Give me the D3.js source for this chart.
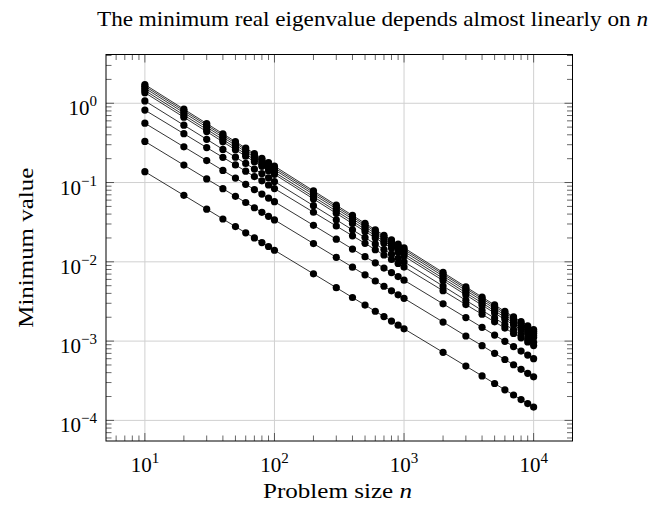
<!DOCTYPE html>
<html>
<head>
<meta charset="utf-8">
<script src="https://cdn.jsdelivr.net/npm/d3@7.9.0/dist/d3.min.js"></script>
<style>
  body { margin: 0; background: #fff; }
  text { font-family: "Liberation Serif", "DejaVu Serif", serif; fill: #000; }
</style>
</head>
<body>
<svg id="chart" width="652" height="506"></svg>
<script>
// problem sizes n (x values)
const sizes = [10, 20, 30, 40, 50, 60, 70, 80, 90, 100,
  200, 300, 400, 500, 600, 700, 800, 900, 1000,
  2000, 3000, 4000, 5000, 6000, 7000, 8000, 9000, 10000];

// minimum real eigenvalue, one array per curve (top to bottom)
const seriesA = [1.72, 0.842, 0.555, 0.412, 0.328, 0.272, 0.232, 0.202, 0.179, 0.161,
  0.0786, 0.0518, 0.0385, 0.0306, 0.0254, 0.0216, 0.0189, 0.0167, 0.0150,
  0.00734, 0.00483, 0.00359, 0.00286, 0.00237, 0.00202, 0.00176, 0.00156, 0.00140];
const seriesB = [1.64, 0.803, 0.529, 0.393, 0.313, 0.259, 0.221, 0.193, 0.171, 0.153,
  0.0750, 0.0494, 0.0367, 0.0292, 0.0242, 0.0206, 0.0180, 0.0159, 0.0143,
  0.00700, 0.00461, 0.00343, 0.00272, 0.00226, 0.00193, 0.00168, 0.00149, 0.00133];
const seriesC = [1.55, 0.759, 0.500, 0.372, 0.295, 0.245, 0.209, 0.182, 0.161, 0.145,
  0.0709, 0.0467, 0.0347, 0.0276, 0.0228, 0.0195, 0.0170, 0.0150, 0.0135,
  0.00661, 0.00435, 0.00324, 0.00257, 0.00213, 0.00182, 0.00159, 0.00140, 0.00126];
const seriesD = [1.45, 0.710, 0.468, 0.348, 0.276, 0.229, 0.195, 0.170, 0.151, 0.135,
  0.0663, 0.0436, 0.0325, 0.0258, 0.0214, 0.0182, 0.0159, 0.0141, 0.0126,
  0.00619, 0.00407, 0.00303, 0.00241, 0.00200, 0.00170, 0.00148, 0.00131, 0.00118];
const seriesE = [1.36, 0.666, 0.439, 0.326, 0.259, 0.215, 0.183, 0.160, 0.141, 0.127,
  0.0622, 0.0409, 0.0304, 0.0242, 0.0200, 0.0171, 0.0149, 0.0132, 0.0118,
  0.00580, 0.00382, 0.00284, 0.00226, 0.00187, 0.00160, 0.00139, 0.00123, 0.00111];
const seriesF = [1.07, 0.529, 0.351, 0.262, 0.209, 0.174, 0.148, 0.130, 0.115, 0.103,
  0.0511, 0.0339, 0.0253, 0.0202, 0.0168, 0.0143, 0.0125, 0.0111, 0.00999,
  0.00494, 0.00327, 0.00244, 0.00195, 0.00162, 0.00139, 0.00121, 0.00107, 0.000965];
const seriesG = [0.82, 0.413, 0.276, 0.208, 0.167, 0.139, 0.119, 0.105, 0.0931, 0.0839,
  0.0422, 0.0283, 0.0213, 0.0171, 0.0142, 0.0122, 0.0107, 0.00953, 0.00859,
  0.00432, 0.00289, 0.00218, 0.00175, 0.00146, 0.00125, 0.00110, 0.000975, 0.000879];
const seriesH = [0.56, 0.282, 0.189, 0.142, 0.114, 0.0950, 0.0816, 0.0715, 0.0636, 0.0573,
  0.0289, 0.0193, 0.0145, 0.0116, 0.00972, 0.00835, 0.00731, 0.00651, 0.00586,
  0.00295, 0.00198, 0.00149, 0.00119, 0.000995, 0.000854, 0.000748, 0.000666, 0.000600];
const seriesI = [0.33, 0.166, 0.111, 0.0837, 0.0671, 0.0560, 0.0481, 0.0421, 0.0375, 0.0338,
  0.0170, 0.0114, 0.00856, 0.00686, 0.00573, 0.00492, 0.00431, 0.00384, 0.00346,
  0.00174, 0.00116, 0.000876, 0.000702, 0.000586, 0.000503, 0.000441, 0.000392, 0.000354];
const seriesJ = [0.137, 0.0690, 0.0462, 0.0347, 0.0278, 0.0232, 0.0200, 0.0175, 0.0156, 0.0140,
  0.00706, 0.00472, 0.00355, 0.00285, 0.00238, 0.00204, 0.00179, 0.00159, 0.00143,
  0.000722, 0.000484, 0.000364, 0.000292, 0.000243, 0.000209, 0.000183, 0.000163, 0.000147];

const allSeries = [seriesA, seriesB, seriesC, seriesD, seriesE, seriesF, seriesG, seriesH, seriesI, seriesJ];

// tick exponents
const xTickExps = [1, 2, 3, 4];
const yTickExps = [-4, -3, -2, -1, 0];

const svg = d3.select("#chart");

// plot box
const boxLeft = 106, boxRight = 572.5, boxTop = 54.5, boxBottom = 441;

const x = d3.scaleLog().domain([Math.pow(10, 0.7), Math.pow(10, 4.3)]).range([boxLeft, boxRight]);
const y = d3.scaleLog().domain([Math.pow(10, -4.26), Math.pow(10, 0.615)]).range([boxBottom, boxTop]);

// grid lines at the major ticks
const grid = svg.append("g").attr("stroke", "#d0d0d0").attr("stroke-width", 1);
grid.selectAll(".gx").data(xTickExps).enter().append("line")
  .attr("x1", d => x(Math.pow(10, d))).attr("x2", d => x(Math.pow(10, d)))
  .attr("y1", boxTop).attr("y2", boxBottom);
grid.selectAll(".gy").data(yTickExps).enter().append("line")
  .attr("y1", d => y(Math.pow(10, d))).attr("y2", d => y(Math.pow(10, d)))
  .attr("x1", boxLeft).attr("x2", boxRight);

// ticks (inside, on all four sides)
const ticks = svg.append("g").attr("stroke", "#000").attr("stroke-width", 0.6);
const xAll = x.ticks().filter(v => v >= x.domain()[0] && v <= x.domain()[1]);
const yAll = y.ticks().filter(v => v >= y.domain()[0] && v <= y.domain()[1]);
const isMajor = v => Math.abs(Math.log10(v) - Math.round(Math.log10(v))) < 1e-9;

xAll.forEach(v => {
  const len = isMajor(v) ? 8 : 5.5;
  ticks.append("line").attr("x1", x(v)).attr("x2", x(v)).attr("y1", boxBottom).attr("y2", boxBottom - len);
  ticks.append("line").attr("x1", x(v)).attr("x2", x(v)).attr("y1", boxTop).attr("y2", boxTop + len);
});
yAll.forEach(v => {
  const len = isMajor(v) ? 8 : 5.5;
  ticks.append("line").attr("y1", y(v)).attr("y2", y(v)).attr("x1", boxLeft).attr("x2", boxLeft + len);
  ticks.append("line").attr("y1", y(v)).attr("y2", y(v)).attr("x1", boxRight).attr("x2", boxRight - len);
});

// data curves
const line = d3.line()
  .x((d, i) => x(sizes[i]))
  .y(d => y(d));

allSeries.forEach(s => {
  const g = svg.append("g");
  g.append("path")
    .attr("d", line(s))
    .attr("fill", "none")
    .attr("stroke", "#000")
    .attr("stroke-width", 0.8);
  g.selectAll("circle")
    .data(s)
    .enter()
    .append("circle")
    .attr("cx", (d, i) => x(sizes[i]))
    .attr("cy", d => y(d))
    .attr("r", 3.6)
    .attr("fill", "#000");
});

// axis box
svg.append("rect")
  .attr("x", boxLeft).attr("y", boxTop)
  .attr("width", boxRight - boxLeft).attr("height", boxBottom - boxTop)
  .attr("fill", "none").attr("stroke", "#000").attr("stroke-width", 1);

// tick labels: 10^k
function powerLabel(sel, exp) {
  sel.append("tspan").text("10");
  sel.append("tspan")
    .attr("dy", -9)
    .attr("font-size", 15)
    .text(exp < 0 ? "\u2212" + Math.abs(exp) : String(exp));
}

xTickExps.forEach(e => {
  const t = svg.append("text")
    .attr("x", x(Math.pow(10, e)))
    .attr("y", 472)
    .attr("text-anchor", "middle")
    .attr("font-size", 21);
  powerLabel(t, e);
});
yTickExps.forEach(e => {
  const t = svg.append("text")
    .attr("x", 97)
    .attr("y", y(Math.pow(10, e)) + 12)
    .attr("text-anchor", "end")
    .attr("font-size", 21);
  powerLabel(t, e);
});

// axis labels
const xl = svg.append("text")
  .attr("x", 263)
  .attr("y", 498)
  .attr("font-size", 21)
  .attr("textLength", 149)
  .attr("lengthAdjust", "spacingAndGlyphs");
xl.append("tspan").text("Problem size ");
xl.append("tspan").attr("font-style", "italic").text("n");

svg.append("text")
  .attr("transform", `translate(33,${(boxTop + boxBottom) / 2}) rotate(-90)`)
  .attr("text-anchor", "middle")
  .attr("font-size", 21)
  .attr("textLength", 160)
  .attr("lengthAdjust", "spacingAndGlyphs")
  .text("Minimum value");

// title
const title = svg.append("text")
  .attr("x", 97)
  .attr("y", 26)
  .attr("font-size", 21)
  .attr("textLength", 551)
  .attr("lengthAdjust", "spacingAndGlyphs");
title.append("tspan").text("The minimum real eigenvalue depends almost linearly on ");
title.append("tspan").attr("font-style", "italic").text("n");
</script>
</body>
</html>
